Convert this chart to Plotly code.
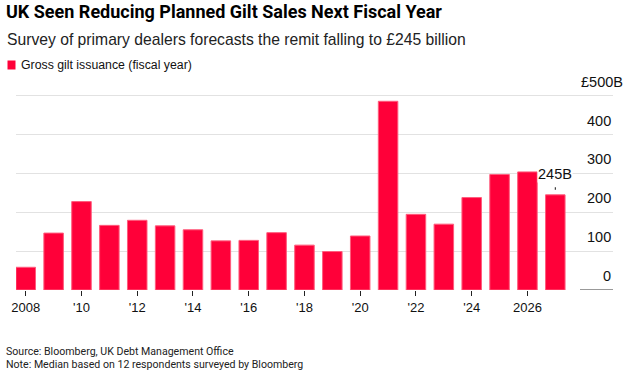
import plotly.graph_objects as go

# ---- data ----
years = list(range(2008, 2028))
issuance = [58.5, 146.5, 227.6, 166.4, 179.4, 165.1, 155.0, 126.5, 127.7, 147.6,
            115.5, 99.0, 139.0, 485.8, 194.8, 169.5, 238.0, 297.5, 304.0, 245.0]
series_name = "Gross gilt issuance (fiscal year)"
x_tickvals = [2008, 2010, 2012, 2014, 2016, 2018, 2020, 2022, 2024, 2026]
x_ticktext = ["2008", "'10", "'12", "'14", "'16", "'18", "'20", "'22", "'24", "2026"]
y_tickvals = [0, 100, 200, 300, 400, 500]
y_ticktext = ["0", "100", "200", "300", "400", "£500B"]
callout_year = 2027
callout_value = 245
callout_text = "245B"

title = "UK Seen Reducing Planned Gilt Sales Next Fiscal Year"
subtitle = "Survey of primary dealers forecasts the remit falling to £245 billion"
source = "Source: Bloomberg, UK Debt Management Office"
note = "Note: Median based on 12 respondents surveyed by Bloomberg"

RED = "#ff0039"
FONT = "Liberation Sans, Arial, sans-serif"
NARROW = "Roboto, Liberation Sans, sans-serif"

W, H = 629, 376
L, R, T, B = 16, 16, 88, 86
plot_h = H - T - B

def py(pix):
    # convert pixel y (from top) into paper y
    return (H - B - pix) / plot_h

def px(pix):
    return (pix - L) / (W - L - R)

fig = go.Figure()
fig.add_trace(go.Bar(
    x=years, y=issuance, width=0.7,
    marker=dict(color=RED, line=dict(color="#ff5c7c", width=1)),
    name=series_name, showlegend=False,
    hovertemplate="%{x}: £%{y}B<extra></extra>",
))

annotations = []
# y tick labels above gridlines
for v, t in zip(y_tickvals, y_ticktext):
    annotations.append(dict(
        x=1, xref="paper", y=v, yref="y", text=t, showarrow=False,
        xanchor="right", yanchor="middle", yshift=14,
        xshift=12 if t.startswith("£") else 0,
        font=dict(family=FONT, size=14.5, color="#111"),
    ))

# callout
annotations.append(dict(
    x=callout_year, y=callout_value, xref="x", yref="y", text=callout_text,
    showarrow=False, yshift=21, yanchor="middle", xanchor="center",
    bgcolor="white", borderpad=0,
    font=dict(family=FONT, size=14.5, color="#111"),
))

# subtitle, legend, footer
annotations += [
    dict(x=px(5), y=py(39.5), xref="paper", yref="paper", text=subtitle, showarrow=False,
         xanchor="left", yanchor="middle", font=dict(family=FONT, size=15.7, color="#222")),
    dict(x=px(19), y=py(65), xref="paper", yref="paper", text=series_name, showarrow=False,
         xanchor="left", yanchor="middle", font=dict(family=FONT, size=12.3, color="#111")),
    dict(x=px(4), y=py(351), xref="paper", yref="paper", text=source, showarrow=False,
         xanchor="left", yanchor="middle", font=dict(family=NARROW, size=10.6, color="#222")),
    dict(x=px(4), y=py(364.5), xref="paper", yref="paper", text=note, showarrow=False,
         xanchor="left", yanchor="middle", font=dict(family=NARROW, size=10.6, color="#222")),
]

shapes = [
    # legend swatch
    dict(type="rect", xref="paper", yref="paper", x0=px(7.5), x1=px(15.5),
         y0=py(69.5), y1=py(60.5), fillcolor=RED, line=dict(width=0)),
    # zero line on the right
    dict(type="line", xref="paper", yref="y", x0=px(580), x1=1, y0=0, y1=0,
         line=dict(color="#777", width=1.5)),
    # callout leader
    dict(type="line", xref="x", yref="y", x0=callout_year, x1=callout_year,
         y0=callout_value + 13, y1=callout_value + 19.5, line=dict(color="#111", width=1)),
]

fig.update_layout(
    width=W, height=H,
    margin=dict(l=L, r=R, t=T, b=B),
    paper_bgcolor="white", plot_bgcolor="white",
    title=dict(text="<b>" + title + "</b>", x=6 / W, xref="container", xanchor="left",
               y=1 - 11.5 / H, yref="container", yanchor="middle",
               font=dict(family=NARROW, size=18, color="#000")),
    annotations=annotations, shapes=shapes,
    bargap=0.3, showlegend=False,
    xaxis=dict(range=[2007.65, 2029.07], tickvals=x_tickvals, ticktext=x_ticktext,
               ticks="outside", ticklen=5, tickcolor="#222", tickwidth=1.2,
               showgrid=False, zeroline=False, showline=False,
               tickfont=dict(family=FONT, size=13, color="#111")),
    yaxis=dict(range=[0, 520], tickvals=y_tickvals[1:], showticklabels=False,
               showgrid=True, gridcolor="#e2e2e2", gridwidth=1, zeroline=False,
               showline=False, ticks=""),
)

fig.write_html("out.html", config={"displayModeBar": False},
               post_script="document.body.style.margin='0';document.body.style.overflow='hidden';")
